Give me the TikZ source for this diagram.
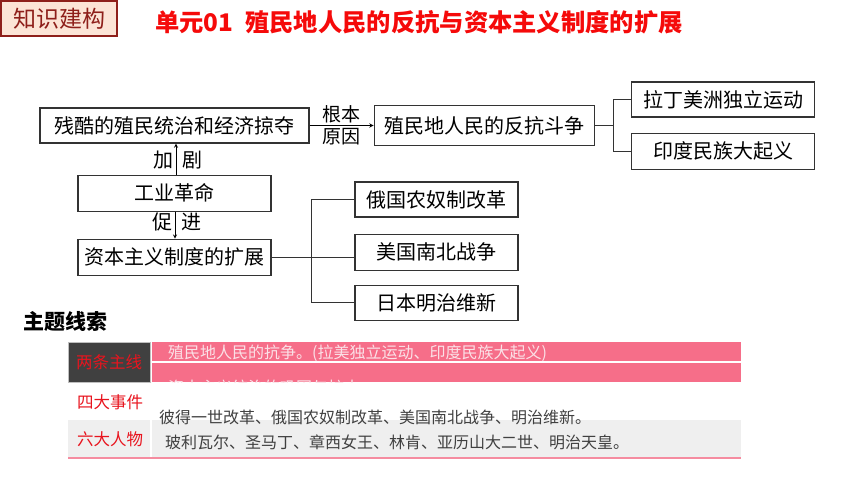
\documentclass[tikz,border=0pt]{standalone}
\usepackage{fontspec}
\setmainfont{Noto Sans CJK SC}
\usetikzlibrary{arrows, positioning}
\definecolor{titlered}{HTML}{F50A0A}
\definecolor{tagfill}{HTML}{FCE4D6}
\definecolor{tagline}{HTML}{8E1F1A}
\definecolor{bandpink}{HTML}{F66E89}
\definecolor{rowpink}{HTML}{FBE1E7}
\definecolor{darkcell}{HTML}{404040}
\definecolor{cellred}{HTML}{E8141E}
\definecolor{softgray}{HTML}{EFEFEF}
\definecolor{linepink}{HTML}{F58CA0}
\tikzstyle{box} = [rectangle, minimum height=35pt, inner sep=3pt, text centered, draw=black!80, line width=1.1pt, font=\fontsize{20}{24}\selectfont]
\tikzstyle{arrow} = [line width=0.9pt,->,>=stealth]
\tikzstyle{link} = [line width=0.9pt, black!80]
\tikzstyle{rowtext} = [anchor=west, inner sep=0pt, font=\fontsize{16}{19}\selectfont]
\tikzstyle{celltag} = [inner sep=0pt, text=cellred, font=\fontsize{16.5}{19}\selectfont]

\begin{document}
\begin{tikzpicture}[x=1pt, y=-1pt]
        \useasboundingbox (0,0) rectangle (860,484);
        % header
        \node (tag) [draw=tagline, line width=2.5pt, fill=tagfill, minimum width=116pt, minimum height=35pt, inner sep=0pt, text=tagline, font=\fontsize{23}{26}\selectfont] at (59,18.5) {知识建构};
        \node (title) [anchor=west, inner sep=0pt, text=titlered, font=\fontsize{24.3}{28}\selectfont\bfseries] at (155,22) {单元01\hspace{12pt}殖民地人民的反抗与资本主义制度的扩展};

        % diagram
        \node (cruel) [box, minimum width=269pt] at (174.5,125.5) {残酷的殖民统治和经济掠夺};
        \node (fight) [box, minimum width=220pt, minimum height=40pt, right=64pt of cruel] {殖民地人民的反抗斗争};
        \node (latin) [box, minimum width=183pt] at (723,99.5) {拉丁美洲独立运动};
        \node (india) [box, minimum width=183pt, minimum height=36pt, below=15pt of latin] {印度民族大起义};
        \node (ind) [box, minimum width=193pt, minimum height=36pt, below=31pt of cruel] {工业革命};
        \node (cap) [box, minimum width=193pt, minimum height=36pt, below=27pt of ind] {资本主义制度的扩展};
        \node (russia) [box, minimum width=163pt] at (436.5,199.5) {俄国农奴制改革};
        \node (usa) [box, minimum width=163pt, minimum height=36pt, below=16pt of russia] {美国南北战争};
        \node (japan) [box, minimum width=163pt, below=14pt of usa] {日本明治维新};

        \draw [arrow] (cruel) -- node[above, font=\fontsize{19}{22}\selectfont, inner sep=2pt] {根本} node[below, font=\fontsize{19}{22}\selectfont, inner sep=2pt] {原因} (fight);
        \draw [arrow] (ind.north) ++(1.5,0) coordinate (up) -- (up |- cruel.south);
        \node (aggr) [font=\fontsize{20}{24}\selectfont, inner sep=0pt] at (177.5,160) {加\hspace{9pt}剧};
        \draw [arrow] (ind.south) ++(0.5,0) coordinate (dn) -- (dn |- cap.north);
        \node (push) [font=\fontsize{20}{24}\selectfont, inner sep=0pt] at (177,222) {促\hspace{9pt}进};

        \draw [link] (fight.east) -- ++(19,0) coordinate (fk);
        \draw [link] (latin.west) -| (fk) |- (india.west);
        \draw [link] (cap.east) -- (cap.east -| usa.west);
        \draw [link] (russia.west) -- ++(-43,0) coordinate (rk) -- (rk |- japan.west) -- (japan.west);

        % theme table
        \node (theme) [anchor=west, inner sep=0pt, font=\fontsize{21}{24}\selectfont\bfseries] at (23,321) {主题线索};
        \fill [bandpink] (152,342) rectangle (741,382);
        \draw [white, line width=1.2pt] (152,362) -- (741,362);
        \fill [darkcell] (68,342) rectangle (150,382);
        \draw [black!25, line width=0.8pt] (68,342) rectangle (150,382);
        \fill [softgray] (68,420) rectangle (150,457);
        \fill [softgray] (152,420) rectangle (741,457);
        \draw [linepink, line width=2pt] (68,458) -- (741,458);
        \node (two) [celltag] at (109,362) {两条主线};
        \node (line1) [rowtext, text=rowpink] at (168,353) {殖民地人民的抗争。(拉美独立运动、印度民族大起义)};
        \begin{scope}
          \clip (152,363) rectangle (741,382);
          \node (line2) [rowtext, text=rowpink] at (168,387) {资本主义统治的巩固与扩大};
        \end{scope}
        \node (four) [celltag] at (110,402) {四大事件};
        \node (events) [rowtext, text=darkcell] at (159,417) {彼得一世改革、俄国农奴制改革、美国南北战争、明治维新。};
        \node (six) [celltag] at (110,439) {六大人物};
        \node (people) [rowtext, text=darkcell] at (165,442) {玻利瓦尔、圣马丁、章西女王、林肯、亚历山大二世、明治天皇。};
\end{tikzpicture}
\end{document}
